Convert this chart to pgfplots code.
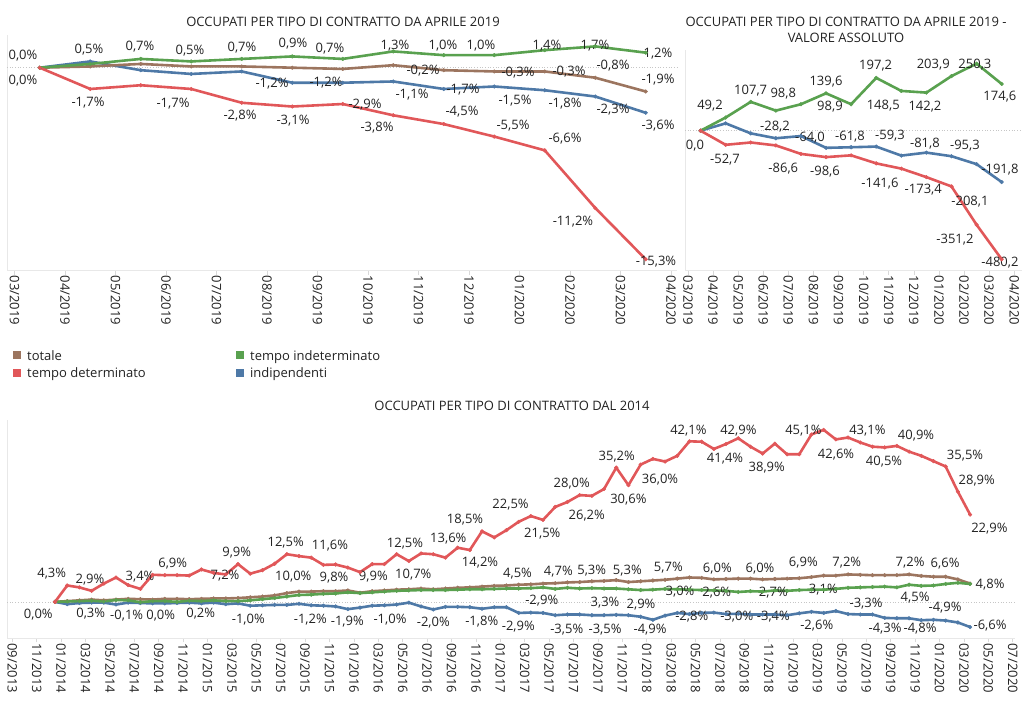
\documentclass[border=0pt]{standalone}
\usepackage{fontspec}
\setmainfont{Open Sans}
\usepackage{pgfplots}
\usepackage{pgfplotstable}
\pgfplotsset{compat=1.18}
\definecolor{cbrown}{HTML}{9C755F}
\definecolor{cred}{HTML}{E15759}
\definecolor{cgreen}{HTML}{59A14F}
\definecolor{cblue}{HTML}{4E79A7}
\definecolor{ctext}{HTML}{222222}
\tikzset{lbl/.style={font=\fontsize{13}{15}\selectfont, text=ctext, inner sep=0pt, anchor=center}}
\newcommand{\LA}[3]{\node[lbl] at (axis cs:{(#1-14.5)/50.5},{(67.7-#2)/12.52}) {#3};}
\newcommand{\LB}[3]{\node[lbl] at (axis cs:{(#1-688)/25.1},{(130.7-#2)/0.2678}) {#3};}
\newcommand{\LC}[3]{\node[lbl] at (axis cs:{(#1-55)/12.2},{(601.7-#2)/3.81}) {#3};}
\pgfplotsset{base/.style={scale only axis, clip=false,
  axis x line*=bottom, axis y line*=left,
  axis line style={draw=gray!18, line width=0.8pt},
  ytick=\empty, tick align=outside, major tick length=4pt,
  xtick style={draw=gray!30, line width=0.6pt},
  xticklabel style={rotate=-90, anchor=west, font=\fontsize{13}{15}\selectfont, text=ctext, inner sep=1pt},
  every axis plot/.append style={line width=2.6pt, mark=*, mark size=1.9pt, line join=round, mark options={solid, line width=0.4pt}}}}

\pgfplotstableread{
x tot ind det dip
0.5 0 0 0 0
1.5 0.1 0.3 -1.7 0.5
2.5 0.3 0.7 -1.4 -0.2
3.5 0.1 0.5 -1.7 -0.5
4.5 0.1 0.7 -2.8 -0.3
5.5 0.0 0.9 -3.1 -1.2
6.5 -0.1 0.7 -2.9 -1.2
7.5 0.2 1.3 -3.8 -1.1
8.5 -0.2 1.0 -4.5 -1.7
9.5 -0.3 1.0 -5.5 -1.5
10.5 -0.3 1.4 -6.6 -1.8
11.5 -0.8 1.7 -11.2 -2.3
12.5 -1.9 1.2 -15.3 -3.6
}\tabA

\pgfplotstableread{
x ind det dip
0.5 0 0 0
1.5 49.2 -52.7 27.4
2.5 107.7 -44 -10
3.5 75 -55 -28.2
4.5 98.8 -86.6 -20
5.5 139.6 -98.6 -64.0
6.5 98.9 -92 -61.8
7.5 197.2 -122 -59.3
8.5 148.5 -141.6 -93
9.5 142.2 -173.4 -81.8
10.5 203.9 -208.1 -95.3
11.5 250.3 -351.2 -125
12.5 174.6 -480.2 -191.8
}\tabB

\pgfplotstableread{
k tot ind det dip
0 0.0 0.0 0.0 0.0
1 0.2 0.1 4.3 -0.6
2 0.4 0.2 3.8 -0.3
3 0.6 0.3 2.9 -0.2
4 0.4 0.1 4.8 -0.2
5 0.6 0.5 6.4 -0.7
6 0.8 0.4 4.4 -0.2
7 0.7 -0.1 3.4 -0.3
8 0.6 0.2 7.1 -0.4
9 0.8 0.2 7.0 -0.4
10 0.8 0.0 7.0 -0.3
11 0.7 0.3 6.9 -0.2
12 0.8 0.2 8.5 -0.4
13 0.9 0.4 7.6 -0.2
14 0.9 0.2 7.2 -0.6
15 1.0 0.2 9.9 -0.4
16 1.2 0.4 7.4 -1.0
17 1.4 0.7 8.3 -0.9
18 1.7 1.0 10.0 -0.8
19 2.3 1.4 12.5 -0.8
20 2.7 1.8 12.0 -0.5
21 2.7 1.9 11.6 -0.9
22 2.8 2.1 9.7 -1.0
23 2.8 2.2 9.8 -1.2
24 3.0 2.5 9.0 -1.9
25 2.4 2.3 7.8 -1.5
26 2.8 2.5 9.9 -1.0
27 3.0 2.7 9.9 -0.9
28 3.2 2.9 12.5 -0.7
29 3.3 3.0 10.7 -0.2
30 3.5 3.1 12.7 -1.2
31 3.3 3.1 12.5 -2.0
32 3.5 3.1 11.6 -1.3
33 3.7 3.2 14.2 -1.3
34 3.8 3.3 13.6 -1.4
35 4.0 3.3 18.5 -1.8
36 4.2 3.4 16.9 -1.4
37 4.3 3.5 18.8 -1.4
38 4.5 3.5 21.0 -2.9
39 4.6 3.6 22.5 -2.8
40 4.8 3.8 21.5 -2.9
41 4.9 3.4 24.9 -3.5
42 5.1 3.7 26.2 -3.3
43 5.2 3.5 28.0 -3.3
44 5.4 3.6 27.8 -3.5
45 5.5 3.5 29.6 -3.5
46 5.7 3.5 35.2 -3.4
47 5.2 3.3 30.6 -3.5
48 5.4 3.1 36.0 -3.9
49 5.6 3.2 37.5 -4.7
50 5.8 3.4 36.8 -3.6
51 6.1 3.3 38.3 -2.9
52 6.4 3.2 42.1 -3.2
53 6.3 3.1 42.0 -2.9
54 5.9 3.0 40.1 -2.8
55 6.0 2.9 41.4 -3.2
56 6.1 2.6 42.9 -3.1
57 6.1 2.8 40.7 -3.3
58 5.9 2.7 38.9 -3.3
59 6.0 3.0 41.5 -3.3
60 6.1 2.9 38.7 -3.5
61 6.2 3.1 38.7 -3.0
62 6.5 3.2 43.9 -2.6
63 6.9 3.2 45.1 -2.9
64 6.9 3.4 42.6 -2.4
65 7.2 3.7 43.1 -3.2
66 7.1 3.8 41.8 -3.3
67 7.0 3.9 40.7 -3.3
68 7.0 4.0 40.5 -4.2
69 7.0 3.8 40.9 -4.3
70 7.2 4.5 39.4 -4.3
71 6.8 4.2 38.3 -4.8
72 6.6 4.3 36.9 -4.7
73 6.6 4.7 35.5 -4.9
74 5.9 5.0 28.9 -5.4
75 4.8 4.7 22.9 -6.6
}\tabC

\begin{document}
\begin{tikzpicture}[x=1pt,y=1pt]
\useasboundingbox (0,0) rectangle (1024,-724);

% titles
\node[font=\fontsize{13}{15}\selectfont, text=ctext, anchor=base, inner sep=0pt] at (343,-26) {OCCUPATI PER TIPO DI CONTRATTO DA APRILE 2019};
\node[font=\fontsize{13}{15}\selectfont, text=ctext, anchor=base, inner sep=0pt] at (846,-26) {OCCUPATI PER TIPO DI CONTRATTO DA APRILE 2019 -};
\node[font=\fontsize{13}{15}\selectfont, text=ctext, anchor=base, inner sep=0pt] at (846,-42.7) {VALORE ASSOLUTO};
\node[font=\fontsize{13}{15}\selectfont, text=ctext, anchor=base, inner sep=0pt] at (512,-410.7) {OCCUPATI PER TIPO DI CONTRATTO DAL 2014};

% legend
\begin{scope}[every node/.style={font=\fontsize{13}{15}\selectfont, text=ctext, anchor=base west, inner sep=0pt}]
\fill[cbrown] (12.5,-351) rectangle ++(8,-8); \node at (27,-360) {totale};
\fill[cred] (12.5,-369) rectangle ++(8,-8); \node at (27,-377.7) {tempo determinato};
\fill[cgreen] (236,-351) rectangle ++(8,-8); \node at (250,-360) {tempo indeterminato};
\fill[cblue] (236,-369) rectangle ++(8,-8); \node at (250,-377.7) {indipendenti};
\end{scope}

% ---------- top-left ----------
\begin{axis}[base, at={(7pt,-35pt)}, anchor=north west, width=670pt, height=235.7pt,
  xmin=-0.1485, xmax=13.119, ymin=-16.21, ymax=2.61,
  xtick={0,...,13},
  xticklabels={03/2019,04/2019,05/2019,06/2019,07/2019,08/2019,09/2019,10/2019,11/2019,12/2019,01/2020,02/2020,03/2020,04/2020}]
\draw[gray!45, dotted, line width=0.7pt] (axis cs:-0.1485,0) -- (axis cs:13.119,0);
\addplot[cblue] table[x=x,y=dip]{\tabA};
\addplot[cbrown] table[x=x,y=tot]{\tabA};
\addplot[cgreen] table[x=x,y=ind]{\tabA};
\addplot[cred] table[x=x,y=det]{\tabA};
\LA{23}{56}{0,0\%}
\LA{23}{81}{0,0\%}
\LA{89}{50}{0,5\%}
\LA{140}{47}{0,7\%}
\LA{190}{51}{0,5\%}
\LA{242}{48}{0,7\%}
\LA{293}{44}{0,9\%}
\LA{330}{49}{0,7\%}
\LA{88}{103}{-1,7\%}
\LA{173}{104}{-1,7\%}
\LA{240}{116}{-2,8\%}
\LA{293}{121}{-3,1\%}
\LA{272}{84}{-1,2\%}
\LA{326}{83}{-1,2\%}
\LA{395}{46}{1,3\%}
\LA{443}{46}{1,0\%}
\LA{481}{46}{1,0\%}
\LA{547}{46}{1,4\%}
\LA{595}{46}{1,7\%}
\LA{658}{54}{1,2\%}
\LA{423}{71}{-0,2\%}
\LA{518}{73}{-0,3\%}
\LA{569}{72}{-0,3\%}
\LA{613}{66}{-0,8\%}
\LA{658}{80}{-1,9\%}
\LA{412}{95}{-1,1\%}
\LA{463}{90}{-1,7\%}
\LA{515}{101}{-1,5\%}
\LA{565}{104}{-1,8\%}
\LA{613}{110}{-2,3\%}
\LA{658}{126}{-3,6\%}
\LA{365}{105}{-2,9\%}
\LA{377}{128}{-3,8\%}
\LA{462}{112}{-4,5\%}
\LA{513}{126}{-5,5\%}
\LA{565}{139}{-6,6\%}
\LA{573}{222}{-11,2\%}
\LA{656}{262}{-15,3\%}
\end{axis}

% ---------- top-right ----------
\begin{axis}[base, at={(685pt,-50pt)}, anchor=north west, width=337pt, height=220.7pt,
  xmin=-0.12, xmax=13.31, ymin=-522.8, ymax=301.3,
  xtick={0,...,13},
  xticklabels={03/2019,04/2019,05/2019,06/2019,07/2019,08/2019,09/2019,10/2019,11/2019,12/2019,01/2020,02/2020,03/2020,04/2020}]
\draw[gray!45, dotted, line width=0.7pt] (axis cs:-0.12,0) -- (axis cs:13.31,0);
\addplot[cblue] table[x=x,y=dip]{\tabB};
\addplot[cgreen] table[x=x,y=ind]{\tabB};
\addplot[cred] table[x=x,y=det]{\tabB};
\LB{710}{106}{49,2}
\LB{750.7}{90.7}{107,7}
\LB{783.3}{94}{98,8}
\LB{826}{81.7}{139,6}
\LB{830}{106.7}{98,9}
\LB{875.7}{65.7}{197,2}
\LB{883.3}{106}{148,5}
\LB{925}{106.7}{142,2}
\LB{933.3}{65}{203,9}
\LB{975}{64.3}{250,3}
\LB{1000}{96.7}{174,6}
\LB{695}{145.7}{0,0}
\LB{725}{159.3}{-52,7}
\LB{775}{126.7}{-28,2}
\LB{810}{137.3}{-64,0}
\LB{850}{136.7}{-61,8}
\LB{890}{136}{-59,3}
\LB{925}{143.3}{-81,8}
\LB{965}{146}{-95,3}
\LB{783.3}{168.3}{-86,6}
\LB{825}{171.7}{-98,6}
\LB{880}{183.3}{-141,6}
\LB{923.3}{189.3}{-173,4}
\LB{970}{201.7}{-208,1}
\LB{1000}{170}{-191,8}
\LB{955}{240}{-351,2}
\LB{1000}{262.7}{-480,2}
\end{axis}

% ---------- bottom ----------
\begin{axis}[base, at={(7pt,-420pt)}, anchor=north west, width=1008pt, height=218.3pt,
  xmin=-3.934, xmax=78.689, ymin=-9.554, ymax=47.69,
  xtick={-3.5,-1.5,...,78.6},
  xticklabels={09/2013,11/2013,01/2014,03/2014,05/2014,07/2014,09/2014,11/2014,01/2015,03/2015,05/2015,07/2015,09/2015,11/2015,01/2016,03/2016,05/2016,07/2016,09/2016,11/2016,01/2017,03/2017,05/2017,07/2017,09/2017,11/2017,01/2018,03/2018,05/2018,07/2018,09/2018,11/2018,01/2019,03/2019,05/2019,07/2019,09/2019,11/2019,01/2020,03/2020,05/2020,07/2020}]
\draw[gray!45, dotted, line width=0.7pt] (axis cs:-3.934,0) -- (axis cs:78.689,0);
\addplot[cblue] table[x=k,y=dip]{\tabC};
\addplot[cbrown] table[x=k,y=tot]{\tabC};
\addplot[cgreen] table[x=k,y=ind]{\tabC};
\addplot[cred] table[x=k,y=det]{\tabC};
\LC{51.7}{573.3}{4,3\%}
\LC{90}{579}{2,9\%}
\LC{140}{576.7}{3,4\%}
\LC{172.7}{563.3}{6,9\%}
\LC{236.7}{552.3}{9,9\%}
\LC{225}{575}{7,2\%}
\LC{285.7}{542.3}{12,5\%}
\LC{330}{545.5}{11,6\%}
\LC{293.3}{576.7}{10,0\%}
\LC{334}{577}{9,8\%}
\LC{38.3}{614.3}{0,0\%}
\LC{90.7}{613.3}{0,3\%}
\LC{126.7}{615}{-0,1\%}
\LC{160.7}{615}{0,0\%}
\LC{200.7}{613.3}{0,2\%}
\LC{248.3}{619}{-1,0\%}
\LC{310.3}{619}{-1,2\%}
\LC{347.3}{621.7}{-1,9\%}
\LC{373.3}{576}{9,9\%}
\LC{405}{543.3}{12,5\%}
\LC{413.3}{574.3}{10,7\%}
\LC{390}{619.3}{-1,0\%}
\LC{448.3}{538.3}{13,6\%}
\LC{465}{520}{18,5\%}
\LC{480}{562.3}{14,2\%}
\LC{433.3}{622.7}{-2,0\%}
\LC{481.7}{621.7}{-1,8\%}
\LC{518.3}{626}{-2,9\%}
\LC{510.5}{504.5}{22,5\%}
\LC{517.5}{573}{4,5\%}
\LC{542.3}{534}{21,5\%}
\LC{558.3}{571.7}{4,7\%}
\LC{591.7}{570}{5,3\%}
\LC{627.3}{570}{5,3\%}
\LC{668.3}{567}{5,7\%}
\LC{541.7}{600.7}{-2,9\%}
\LC{605}{602.5}{3,3\%}
\LC{641}{604}{2,9\%}
\LC{566.7}{629}{-3,5\%}
\LC{605}{629}{-3,5\%}
\LC{650}{629}{-4,9\%}
\LC{571.7}{484}{28,0\%}
\LC{586.7}{516}{26,2\%}
\LC{616.7}{456.7}{35,2\%}
\LC{628.3}{499.3}{30,6\%}
\LC{660}{479.3}{36,0\%}
\LC{688.3}{430.7}{42,1\%}
\LC{738.3}{430.7}{42,9\%}
\LC{725}{458.3}{41,4\%}
\LC{766.7}{467.7}{38,9\%}
\LC{717.3}{568.3}{6,0\%}
\LC{760}{568.3}{6,0\%}
\LC{680}{591}{3,0\%}
\LC{716.7}{592.7}{2,6\%}
\LC{773.3}{592.7}{2,7\%}
\LC{691.7}{616.7}{-2,8\%}
\LC{736.7}{616.7}{-3,0\%}
\LC{773.3}{616.7}{-3,4\%}
\LC{803.3}{430.7}{45,1\%}
\LC{867.3}{430.7}{43,1\%}
\LC{836}{454.3}{42,6\%}
\LC{884}{461.7}{40,5\%}
\LC{916}{436}{40,9\%}
\LC{965}{455.7}{35,5\%}
\LC{976.7}{481}{28,9\%}
\LC{989.3}{528.3}{22,9\%}
\LC{803.3}{562.7}{6,9\%}
\LC{846.7}{562.7}{7,2\%}
\LC{910}{562.7}{7,2\%}
\LC{945}{563.3}{6,6\%}
\LC{990}{584.3}{4,8\%}
\LC{823.3}{589.3}{3,1\%}
\LC{915}{597.7}{4,5\%}
\LC{866}{603.3}{-3,3\%}
\LC{945}{607.7}{-4,9\%}
\LC{816.7}{625}{-2,6\%}
\LC{885}{628.3}{-4,3\%}
\LC{920}{628.3}{-4,8\%}
\LC{990}{625.7}{-6,6\%}
\end{axis}
\end{tikzpicture}
\end{document}
